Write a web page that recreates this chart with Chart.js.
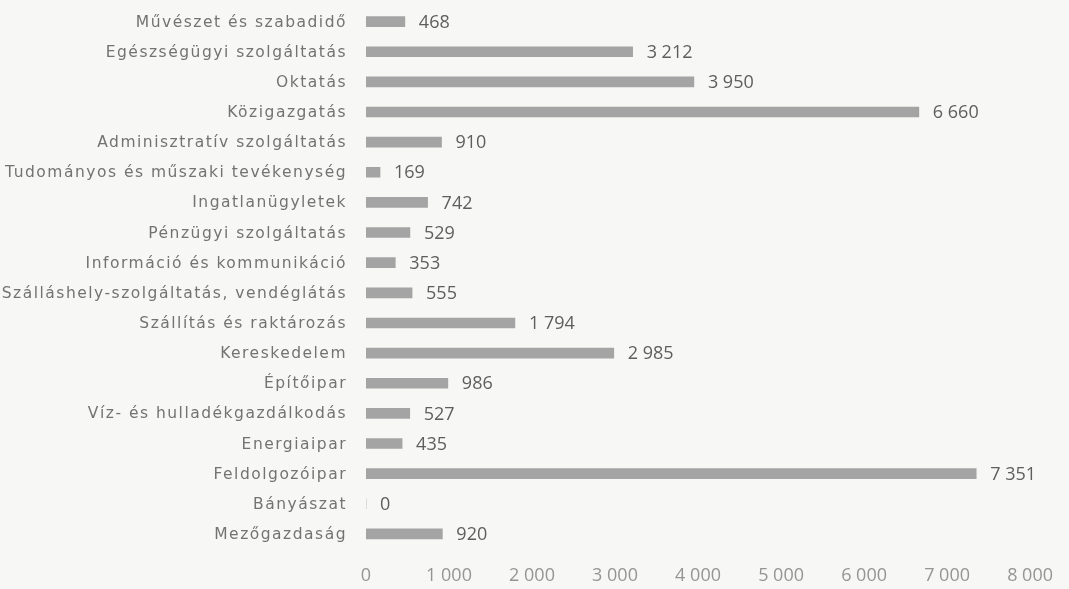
<!DOCTYPE html>
<html>
<head>
<meta charset="utf-8">
<script src="https://cdn.jsdelivr.net/npm/chart.js@4.4.1/dist/chart.umd.min.js"></script>
<style>
html,body{margin:0;padding:0;background:#f7f7f5;}
#wrap{width:1069px;height:589px;position:relative;}
</style>
</head>
<body>
<div id="wrap"><canvas id="c" width="1069" height="589"></canvas></div>
<script>
const categories = [
  "Művészet és szabadidő",
  "Egészségügyi szolgáltatás",
  "Oktatás",
  "Közigazgatás",
  "Adminisztratív szolgáltatás",
  "Tudományos és műszaki tevékenység",
  "Ingatlanügyletek",
  "Pénzügyi szolgáltatás",
  "Információ és kommunikáció",
  "Szálláshely-szolgáltatás, vendéglátás",
  "Szállítás és raktározás",
  "Kereskedelem",
  "Építőipar",
  "Víz- és hulladékgazdálkodás",
  "Energiaipar",
  "Feldolgozóipar",
  "Bányászat",
  "Mezőgazdaság"
];
const values = [468, 3212, 3950, 6660, 910, 169, 742, 529, 353, 555, 1794, 2985, 986, 527, 435, 7351, 0, 920];
const xTicks = [0, 1000, 2000, 3000, 4000, 5000, 6000, 7000, 8000];

const fmt = v => String(v).replace(/\B(?=(\d{3})+(?!\d))/g, " ");
const FONT = "'Open Sans', sans-serif";
const LABEL_FONT = "15.5px 'DejaVu Sans', sans-serif";

function setSpacing(ctx, v) { if ('letterSpacing' in ctx) ctx.letterSpacing = v; }

const catLabels = {
  id: 'catLabels',
  afterDraw(chart) {
    const ctx = chart.ctx;
    const y = chart.scales.y;
    ctx.save();
    ctx.font = LABEL_FONT;
    setSpacing(ctx, '1.5px');
    ctx.fillStyle = "#737373";
    ctx.textAlign = "right";
    ctx.textBaseline = "middle";
    categories.forEach((c, i) => {
      ctx.fillText(c, 347, y.getPixelForTick(i) + 1);
    });
    setSpacing(ctx, '0px');
    ctx.restore();
  }
};
const valueLabels = {
  id: 'valueLabels',
  afterDatasetsDraw(chart) {
    const ctx = chart.ctx;
    const meta = chart.getDatasetMeta(0);
    ctx.save();
    setSpacing(ctx, '0px');
    ctx.font = "18px " + FONT;
    ctx.fillStyle = "#5e5e5e";
    ctx.textAlign = "left";
    ctx.textBaseline = "middle";
    meta.data.forEach((bar, i) => {
      ctx.fillText(fmt(values[i]), bar.x + 14, bar.y + 1);
    });
    ctx.restore();
  }
};
const bg = {
  id: 'bg',
  beforeDraw(chart) {
    const ctx = chart.ctx;
    setSpacing(ctx, '0px');
    ctx.save();
    ctx.fillStyle = "#f7f7f5";
    ctx.fillRect(0, 0, chart.width, chart.height);
    ctx.restore();
  }
};

new Chart(document.getElementById('c'), {
  type: 'bar',
  data: {
    labels: categories,
    datasets: [{
      data: values,
      backgroundColor: "#a4a4a4",
      barThickness: 10
    }]
  },
  options: {
    indexAxis: 'y',
    responsive: false,
    animation: false,
    layout: { padding: { top: 6.5, right: 33, bottom: 0, left: 0 } },
    plugins: { legend: { display: false }, tooltip: { enabled: false } },
    scales: {
      x: {
        min: 0, max: 8000,
        afterBuildTicks(s) { s.ticks = xTicks.map(v => ({ value: v })); },
        grid: { display: false, drawTicks: false },
        border: { display: false },
        ticks: { color: "#959595", font: { family: FONT, size: 18 }, padding: 16, callback: v => fmt(v) },
        afterFit(s) { s.height = 40; }
      },
      y: {
        grid: { display: false, drawTicks: false },
        border: { display: false },
        ticks: { display: false, autoSkip: false },
        afterFit(s) { s.width = 366; }
      }
    }
  },
  plugins: [bg, valueLabels, catLabels]
});
</script>
</body>
</html>
